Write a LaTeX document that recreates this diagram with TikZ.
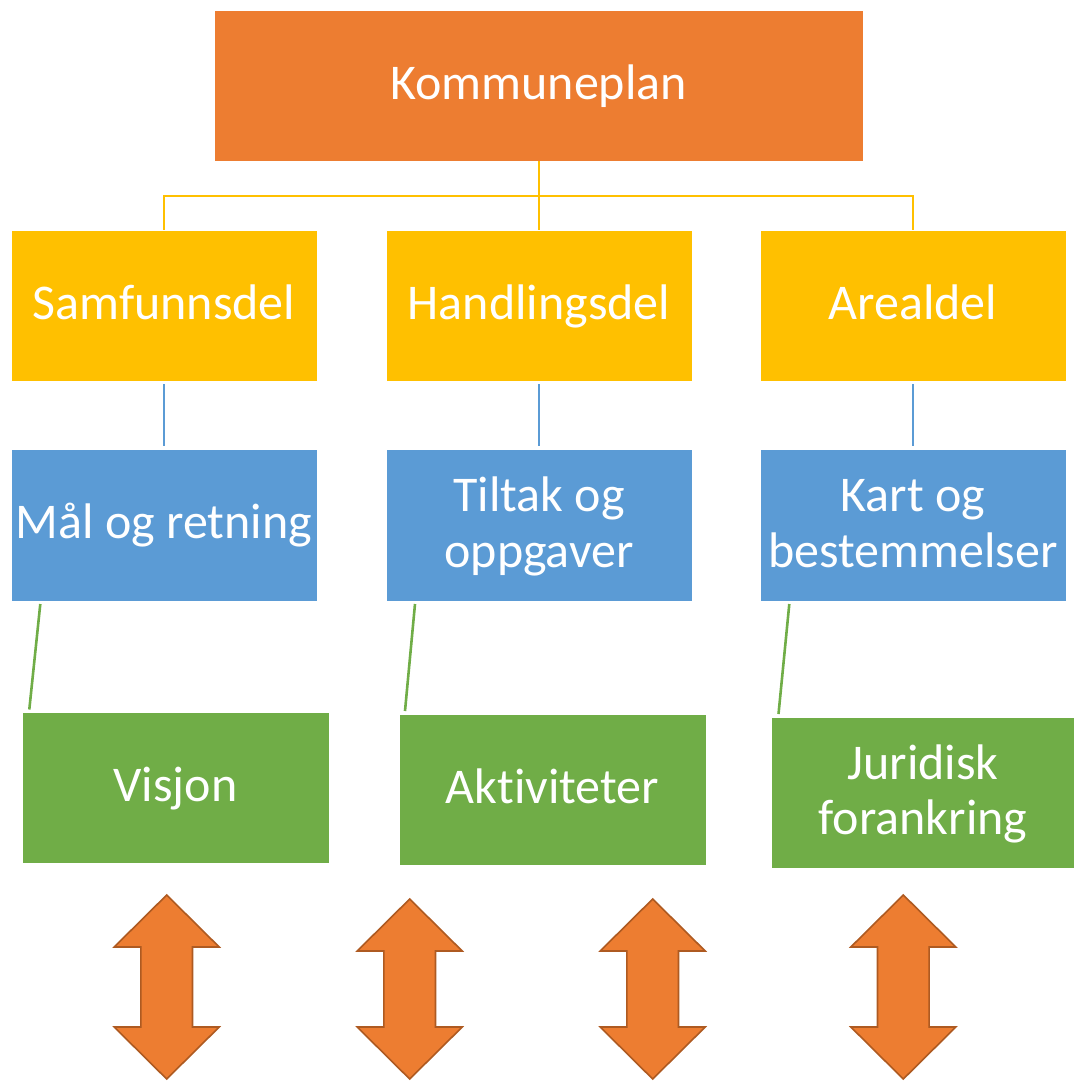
\documentclass[tikz,border=0pt]{standalone}
\usepackage{fontspec}
\setmainfont[Ligatures=NoCommon]{Carlito}
\definecolor{cOrange}{HTML}{ED7D31}
\definecolor{cYellow}{HTML}{FFC000}
\definecolor{cBlue}{HTML}{5B9BD5}
\definecolor{cGreen}{HTML}{70AD47}
\definecolor{cArrEdge}{HTML}{AE5A21}
\newcommand\DArr[3]{%
  \draw[arrshape] (#1,-#2) -- ({#1+52.5},{-#2-52}) -- ({#1+25.8},{-#2-52})
    -- ({#1+25.8},{-#3+52}) -- ({#1+52.5},{-#3+52}) -- (#1,-#3)
    -- ({#1-52.5},{-#3+52}) -- ({#1-25.8},{-#3+52}) -- ({#1-25.8},{-#2-52})
    -- ({#1-52.5},{-#2-52}) -- cycle;}
\newcommand\TopStrut{\rule{0pt}{40pt}}
\newcommand\BotStrut{\rule[-11.5pt]{0pt}{11.5pt}}
\begin{document}
\begin{tikzpicture}[x=1pt,y=1pt,
  box/.style={rectangle, draw=white, line width=0.8pt, inner sep=0pt, text=white,
    align=center, font=\fontsize{50}{55.5}\selectfont},
  one/.style={text height=38.6pt, text depth=11pt},
  topbox/.style={box, fill=cOrange, minimum width=649, minimum height=151},
  ybox/.style={box, fill=cYellow, minimum width=306, minimum height=151},
  bbox/.style={box, fill=cBlue, minimum width=306, minimum height=152},
  gbox/.style={box, fill=cGreen, minimum width=307, minimum height=151},
  yline/.style={draw=cYellow, line width=2pt},
  bline/.style={draw=cBlue, line width=2pt},
  gline/.style={draw=cGreen, line width=2.6pt},
  arrshape/.style={fill=cOrange, draw=cArrEdge, line width=1.6pt, line join=miter}]
\useasboundingbox (0,0) rectangle (1073,-1081);
% boxes
\node[topbox, one] (K) at (538.5,-85.5) {Kommuneplan};
\node[ybox, one] (S) at (164,-305.5) {Samfunnsdel};
\node[ybox, one] (H) at (539,-305.5) {Handlingsdel};
\node[ybox, one] (A) at (913,-305.5) {Arealdel};
\node[bbox, one] (M) at (164,-525) {Mål og retning};
\node[bbox] (T) at (539,-525) {\TopStrut Tiltak og\\oppgaver\BotStrut};
\node[bbox] (B) at (913,-525) {\TopStrut Kart og\\bestemmelser\BotStrut};
\node[gbox, one] (V) at (175.5,-788) {Visjon};
\node[gbox, one] (Ak) at (552.5,-789.5) {Aktiviteter};
\node[gbox, minimum width=304] (J) at (923,-792.5) {\TopStrut Juridisk\\forankring\BotStrut};
% yellow tree
\coordinate (j) at (538.5,-196);
\draw[yline] (K.south) -- (j);
\draw[yline] (j) -| (S.north);
\draw[yline] (j) -| (A.north);
\draw[yline] (j) -| (H.north);
% blue lines
\draw[bline, shorten <=3pt, shorten >=3pt] (S.south) -- (M.north);
\draw[bline, shorten <=3pt, shorten >=3pt] (H.south) -- (T.north);
\draw[bline, shorten <=3pt, shorten >=3pt] (A.south) -- (B.north);
% green lines
\coordinate (g1a) at (40.3,-604);
\coordinate (g1b) at (29.3,-709.5);
\coordinate (g2a) at (415,-604);
\coordinate (g2b) at (405,-711);
\coordinate (g3a) at (789.3,-604);
\coordinate (g3b) at (778.5,-714);
\draw[gline] (g1a) -- (g1b);
\draw[gline] (g2a) -- (g2b);
\draw[gline] (g3a) -- (g3b);
% double arrows
\DArr{166.7}{895}{1079}
\DArr{409.7}{899}{1079}
\DArr{652.7}{899}{1079}
\DArr{903.3}{895}{1079}
\end{tikzpicture}
\end{document}
